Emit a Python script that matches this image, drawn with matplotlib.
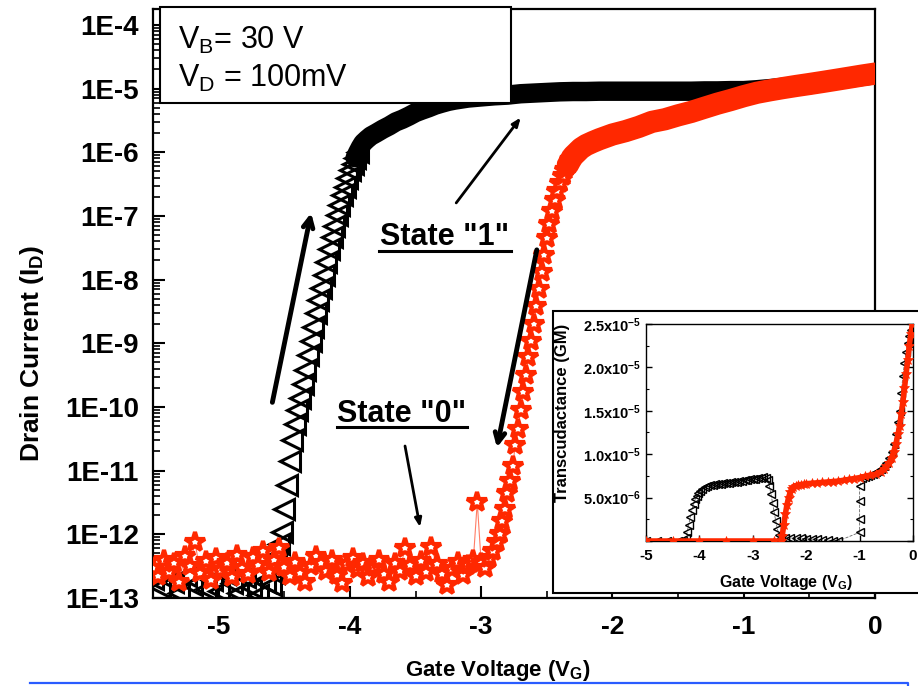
import numpy as np
import matplotlib
matplotlib.use("Agg")
import matplotlib.pyplot as plt
from matplotlib.patches import Rectangle
from matplotlib.lines import Line2D
from matplotlib.ticker import FixedLocator, LogLocator, NullFormatter, MultipleLocator

plt.rcParams['font.family'] = ['Liberation Sans', 'DejaVu Sans']
plt.rcParams['mathtext.fontset'] = 'custom'
plt.rcParams['mathtext.rm'] = 'Liberation Sans'
plt.rcParams['mathtext.bf'] = 'Liberation Sans:bold'
plt.rcParams['mathtext.default'] = 'regular'

RED = '#ff2800'
W, H = 918, 686

# ---- main plot data: drain current vs gate voltage ----
# forward sweep (black triangles)
vg_up = [-5.50, -5.45, -5.40, -5.35, -5.30, -5.25, -5.20, -5.15, -5.10, -5.05,
         -5.00, -4.95, -4.90, -4.85, -4.80, -4.75, -4.70, -4.65, -4.60, -4.58,
         -4.56, -4.54, -4.52, -4.50, -4.48, -4.46, -4.44, -4.42, -4.40, -4.38,
         -4.36, -4.34, -4.32, -4.30, -4.28, -4.26, -4.24, -4.22, -4.20, -4.18,
         -4.16, -4.14, -4.12, -4.10, -4.08, -4.06, -4.04, -4.02, -4.00, -3.98,
         -3.96, -3.94, -3.92, -3.90, -3.87, -3.84, -3.80, -3.75, -3.70, -3.65,
         -3.60, -3.55, -3.50, -3.45, -3.40, -3.35, -3.30, -3.25, -3.20, -3.10,
         -3.00, -2.90, -2.80, -2.70, -2.60, -2.50, -2.40, -2.30, -2.20, -2.10,
         -2.00, -1.90, -1.80, -1.70, -1.60, -1.50, -1.40, -1.30, -1.20, -1.10,
         -1.00, -0.90, -0.80, -0.70, -0.60, -0.50, -0.40, -0.30, -0.20, -0.10,
         0.00]
id_up = [2.0e-13, 1.5e-13, 2.5e-13, 1.8e-13, 1.2e-13, 2.2e-13, 1.6e-13, 2.8e-13, 1.4e-13, 1.9e-13,
         1.3e-13, 2.4e-13, 1.7e-13, 1.2e-13, 2.1e-13, 1.5e-13, 1.1e-13, 1.8e-13, 1.6e-13, 2.5e-13,
         4.5e-13, 7e-13, 1.1e-12, 2.5e-12, 6e-12, 1.4e-11, 3e-11, 5.5e-11, 9e-11, 1.4e-10,
         2.3e-10, 3.8e-10, 6.5e-10, 1.1e-9, 1.8e-9, 3e-9, 4.8e-9, 7.5e-9, 1.2e-8, 1.9e-8,
         3e-8, 4.6e-8, 7e-8, 1.05e-7, 1.5e-7, 2.1e-7, 2.9e-7, 3.9e-7, 5.2e-7, 6.6e-7,
         8.2e-7, 1.0e-6, 1.2e-6, 1.4e-6, 1.6e-6, 1.8e-6, 2.0e-6, 2.3e-6, 2.6e-6, 3.0e-6,
         3.3e-6, 3.7e-6, 4.2e-6, 4.6e-6, 5.0e-6, 5.5e-6, 5.9e-6, 6.3e-6, 6.6e-6, 7.1e-6,
         7.4e-6, 7.7e-6, 7.9e-6, 8.3e-6, 8.5e-6, 8.7e-6, 8.9e-6, 9.0e-6, 9.0e-6, 9.1e-6,
         9.1e-6, 9.1e-6, 9.1e-6, 9.1e-6, 9.1e-6, 9.1e-6, 9.1e-6, 9.2e-6, 9.2e-6, 9.3e-6,
         9.3e-6, 9.6e-6, 1.0e-5, 1.05e-5, 1.1e-5, 1.15e-5, 1.25e-5, 1.35e-5, 1.45e-5, 1.55e-5,
         1.65e-5]

# reverse sweep (red stars)
vg_dn = [-5.50, -5.46, -5.42, -5.38, -5.34, -5.30, -5.26, -5.22, -5.18, -5.14,
         -5.10, -5.06, -5.02, -4.98, -4.94, -4.90, -4.86, -4.82, -4.78, -4.74,
         -4.70, -4.66, -4.62, -4.58, -4.54, -4.50, -4.46, -4.42, -4.38, -4.34,
         -4.30, -4.26, -4.22, -4.18, -4.14, -4.10, -4.06, -4.02, -3.98, -3.94,
         -3.90, -3.86, -3.82, -3.78, -3.74, -3.70, -3.66, -3.62, -3.58, -3.54,
         -3.50, -3.46, -3.42, -3.38, -3.34, -3.30, -3.26, -3.22, -3.18, -3.14,
         -3.10, -3.06, -3.03, -3.00, -2.97, -2.94, -2.91, -2.88, -2.86, -2.84,
         -2.82, -2.80, -2.78, -2.76, -2.74, -2.72, -2.70, -2.68, -2.66, -2.64,
         -2.62, -2.60, -2.58, -2.56, -2.54, -2.52, -2.50, -2.48, -2.46, -2.44,
         -2.42, -2.40, -2.38, -2.36, -2.34, -2.32, -2.30, -2.27, -2.24, -2.20,
         -2.15, -2.10, -2.00, -1.90, -1.80, -1.70, -1.60, -1.50, -1.40, -1.30,
         -1.20, -1.10, -1.00, -0.90, -0.80, -0.70, -0.60, -0.50, -0.40, -0.30,
         -0.20, -0.10, 0.00]
id_dn = [3.0e-13, 2.2e-13, 4.0e-13, 2.6e-13, 3.5e-13, 1.8e-13, 4.5e-13, 3.2e-13, 7.5e-13, 2.5e-13,
         3.8e-13, 1.9e-13, 4.2e-13, 2.8e-13, 3.6e-13, 2.1e-13, 4.8e-13, 3.0e-13, 2.4e-13, 4.4e-13,
         3.3e-13, 5.5e-13, 2.6e-13, 3.9e-13, 6.0e-13, 3.1e-13, 2.2e-13, 3.7e-13, 2.5e-13, 1.8e-13,
         3.2e-13, 4.6e-13, 3.5e-13, 2.7e-13, 3.9e-13, 2.3e-13, 1.7e-13, 3.4e-13, 4.3e-13, 2.9e-13,
         3.6e-13, 2.1e-13, 3.1e-13, 4.0e-13, 2.4e-13, 1.8e-13, 3.5e-13, 2.7e-13, 6.0e-13, 3.3e-13,
         2.2e-13, 3.8e-13, 2.6e-13, 6.3e-13, 3.4e-13, 2.4e-13, 1.6e-13, 2.9e-13, 3.7e-13, 2.3e-13,
         3.3e-13, 3.9e-13, 3.2e-12, 3.6e-13, 3.0e-13, 4.2e-13, 5.5e-13, 7.5e-13, 1.0e-12, 1.6e-12,
         2.5e-12, 4.5e-12, 7e-12, 1.2e-11, 2.5e-11, 4.5e-11, 9e-11, 1.7e-10, 3.2e-10, 6e-10,
         1.1e-9, 2e-9, 3.8e-9, 7e-9, 1.3e-8, 2.4e-8, 4.5e-8, 7.5e-8, 1.2e-7, 1.8e-7,
         2.5e-7, 3.3e-7, 4.2e-7, 5.2e-7, 6.3e-7, 7.5e-7, 8.7e-7, 1.0e-6, 1.15e-6, 1.3e-6,
         1.45e-6, 1.6e-6, 1.9e-6, 2.15e-6, 2.5e-6, 3.0e-6, 3.3e-6, 3.8e-6, 4.3e-6, 5.0e-6,
         5.8e-6, 6.6e-6, 7.6e-6, 8.6e-6, 9.4e-6, 1.02e-5, 1.1e-5, 1.18e-5, 1.27e-5, 1.37e-5,
         1.48e-5, 1.6e-5, 1.72e-5]

x_ticks = [-5, -4, -3, -2, -1, 0]
x_labels = ['-5', '-4', '-3', '-2', '-1', '0']
y_exps = list(range(-13, -3))
y_labels = ['1E%d' % e for e in y_exps]

# ---- inset data: transconductance (uS) ----
vg_gm_up = [-5.0, -4.8, -4.6, -4.4, -4.3, -4.26, -4.23, -4.2, -4.17, -4.14,
            -4.11, -4.08, -4.05, -4.02, -3.99, -3.95, -3.9, -3.85, -3.8, -3.75,
            -3.7, -3.65, -3.6, -3.55, -3.5, -3.45, -3.4, -3.35, -3.3, -3.25,
            -3.2, -3.15, -3.1, -3.05, -3.0, -2.95, -2.9, -2.85, -2.8, -2.76,
            -2.72, -2.69, -2.66, -2.63, -2.6, -2.57, -2.54, -2.51, -2.48, -2.4,
            -2.3, -2.2, -2.1, -2.0, -1.9, -1.8, -1.7, -1.6, -1.5, -1.4,
            -1.0, -1.0, -1.0, -1.0, -0.95, -0.9, -0.85, -0.8, -0.75, -0.7,
            -0.65, -0.6, -0.55, -0.5, -0.45, -0.4, -0.36, -0.32, -0.28, -0.25,
            -0.22, -0.19, -0.16, -0.13, -0.1, -0.07, -0.04]
gm_up = [0, 0, 0, 0, 0, 0.3, 1.0, 1.9, 2.8, 3.6,
         4.3, 4.8, 5.2, 5.5, 5.8, 6.0, 6.2, 6.3, 6.4, 6.5,
         6.55, 6.6, 6.6, 6.65, 6.7, 6.7, 6.75, 6.8, 6.85, 6.9,
         6.95, 7.0, 7.05, 7.1, 7.15, 7.2, 7.25, 7.3, 7.35, 7.3,
         7.0, 6.3, 5.4, 4.4, 3.3, 2.3, 1.4, 0.7, 0.35, 0.35,
         0.35, 0.3, 0.3, 0.25, 0.2, 0.2, 0.15, 0.1, 0.05, 0.0,
         1.0, 2.5, 4.6, 6.3, 7.3, 7.4, 7.5, 7.6, 7.7, 7.9,
         8.1, 8.3, 8.6, 9.0, 9.6, 10.3, 11.2, 12.3, 13.7, 15.0,
         17.0, 19.0, 20.5, 21.8, 22.8, 23.6, 24.3]

vg_gm_dn = [-5.0, -4.5, -4.0, -3.5, -3.0, -2.6, -2.48, -2.45, -2.42, -2.39,
            -2.36, -2.33, -2.3, -2.27, -2.24, -2.2, -2.15, -2.1, -2.05, -2.0,
            -1.9, -1.8, -1.7, -1.6, -1.5, -1.4, -1.3, -1.2, -1.1, -1.0,
            -0.9, -0.8, -0.7, -0.6, -0.55, -0.5, -0.45, -0.4, -0.36, -0.32,
            -0.28, -0.25, -0.22, -0.19, -0.16, -0.13, -0.1, -0.07, -0.04, -0.01]
gm_dn = [0, 0, 0, 0, 0, 0, 0, 0.6, 1.8, 3.1,
         4.2, 5.0, 5.6, 6.0, 6.2, 6.35, 6.45, 6.5, 6.55, 6.6,
         6.65, 6.7, 6.75, 6.8, 6.85, 6.9, 7.0, 7.1, 7.2, 7.3,
         7.45, 7.6, 7.7, 8.0, 8.3, 8.6, 9.0, 9.6, 10.3, 11.2,
         12.3, 13.3, 14.6, 16.0, 17.6, 19.2, 20.8, 22.5, 23.9, 25.0]

gm_ticks = [0, 5e-6, 1e-5, 1.5e-5, 2e-5, 2.5e-5]
gm_labels = ['', r'$\mathbf{5.0x10^{-6}}$', r'$\mathbf{1.0x10^{-5}}$',
             r'$\mathbf{1.5x10^{-5}}$', r'$\mathbf{2.0x10^{-5}}$', r'$\mathbf{2.5x10^{-5}}$']

# annotation arrows (tail, head) in data units: (Vg, log10 Id)
big_arrows = [((-4.595, -9.97), (-4.291, -6.91)),
              ((-2.572, -7.49), (-2.884, -10.68))]
thin_arrows = [((-3.203, -6.83), (-2.686, -5.42)),
               ((-3.584, -10.57), (-3.462, -11.93))]
state_text = ['State "1"', 'State "0"']
state_pos = [(-3.774, -7.46), (-4.101, -10.237)]
state_line = [(-3.781, -2.77, -7.553), (-4.101, -3.105, -10.316)]

vg_up = np.array(vg_up); id_up = np.array(id_up)
vg_dn = np.array(vg_dn); id_dn = np.array(id_dn)

fig = plt.figure(figsize=(W / 100, H / 100), dpi=100)
ax = fig.add_axes([153 / W, 1 - 598 / H, (875 - 153) / W, (598 - 9) / H])

# black forward sweep: open triangles, merging into a solid band once saturated
band = vg_up >= -3.96
ax.plot(vg_up[band], id_up[band], color='k', lw=14, solid_capstyle='round', zorder=2)
pts = vg_up < -3.92
ax.plot(vg_up[pts], id_up[pts], ls='none', marker='<', ms=14, mfc='none', mec='k', mew=2.2, zorder=2)

# red reverse sweep
ax.plot(vg_dn, id_dn, color=RED, lw=0.8, alpha=0.6, zorder=3)
pts = vg_dn < -2.2
ax.plot(vg_dn[pts], id_dn[pts], ls='none', marker='*', ms=15, mfc='white', mec=RED, mew=3, zorder=3)
band = vg_dn >= -2.34
ax.plot(vg_dn[band], id_dn[band], color=RED, lw=16, solid_capstyle='round', zorder=4)

ax.set_xlim(-5.5, 0)
ax.set_yscale('log')
ax.set_ylim(1e-13, 10 ** -3.75)
ax.yaxis.set_major_locator(FixedLocator([10.0 ** e for e in y_exps]))
ax.set_yticklabels(y_labels)
ax.yaxis.set_minor_locator(LogLocator(base=10, subs=np.arange(2, 10), numticks=30))
ax.yaxis.set_minor_formatter(NullFormatter())
ax.set_xticks(x_ticks)
ax.set_xticklabels(x_labels)
ax.xaxis.set_minor_locator(MultipleLocator(0.5))
ax.tick_params(which='both', direction='in', top=False, right=False)
ax.tick_params(which='major', length=8.5, width=1.5)
ax.tick_params(which='minor', length=5, width=1.2)
ax.tick_params(axis='y', which='major', pad=10, labelsize=20)
ax.tick_params(axis='x', which='major', pad=12, labelsize=19)
for lab in ax.get_xticklabels() + ax.get_yticklabels():
    lab.set_fontweight('bold')
for s in ax.spines.values():
    s.set_linewidth(1.6)

for (t, h) in big_arrows:
    ax.annotate('', xy=(h[0], 10 ** h[1]), xytext=(t[0], 10 ** t[1]),
                arrowprops=dict(arrowstyle='->,head_length=0.7,head_width=0.35',
                                lw=3.5, color='k'), zorder=6)
for (t, h) in thin_arrows:
    ax.annotate('', xy=(h[0], 10 ** h[1]), xytext=(t[0], 10 ** t[1]),
                arrowprops=dict(arrowstyle='-|>,head_length=0.5,head_width=0.2',
                                lw=2, color='k'), zorder=6)
for txt, (x, y), (x0, x1, yl) in zip(state_text, state_pos, state_line):
    ax.text(x, 10 ** y, txt, fontsize=22, fontweight='bold', ha='left', va='baseline', zorder=6)
    ax.plot([x0, x1], [10 ** yl, 10 ** yl], color='k', lw=2.2, zorder=6)

fig.text(32 / W, 1 - 353 / H, r'Drain Current (I$_\mathbf{D}$)', rotation=90,
         ha='center', va='center', fontsize=19, fontweight='bold')
fig.text(405 / W, 1 - 676 / H, r'Gate Voltage (V$_\mathbf{G}$)', ha='left', va='baseline',
         fontsize=16, fontweight='bold', zorder=8)

# slide frame line at bottom
fig.add_artist(Line2D([30 / W, 908 / W, 908 / W], [1 - 683 / H, 1 - 683 / H, 0],
                      color='#2a5cff', lw=1.6, zorder=1))

# bias condition box
fig.add_artist(Rectangle((160 / W, 1 - 103 / H), (511 - 160) / W, (103 - 7) / H,
                         transform=fig.transFigure, facecolor='white', edgecolor='k',
                         lw=1.5, zorder=5))
fig.text(178 / W, 1 - 40 / H, r'V$_B$= 30 V', fontsize=22, va='center', zorder=6)
fig.text(178 / W, 1 - 78 / H, r'V$_D$ = 100mV', fontsize=22, va='center', zorder=6)

# inset
fig.add_artist(Rectangle((553 / W, 1 - 593 / H), (925 - 553) / W, (593 - 311) / H,
                         transform=fig.transFigure, facecolor='white', edgecolor='k',
                         lw=1.5, zorder=5))
ins = fig.add_axes([646 / W, 1 - 541 / H, (913 - 646) / W, (541 - 324) / H])
ins.set_zorder(6)
ins.plot(vg_gm_up, np.array(gm_up) * 1e-6, color='0.4', lw=0.6, ls='--', zorder=2)
ins.plot(vg_gm_up, np.array(gm_up) * 1e-6, ls='none', marker='<', ms=6, mfc='none',
         mec='k', mew=1.0, zorder=2)
ins.plot(vg_gm_dn, np.array(gm_dn) * 1e-6, color=RED, lw=4, zorder=3)
ins.plot(vg_gm_dn, np.array(gm_dn) * 1e-6, ls='none', marker='*', ms=7, mfc=RED,
         mec=RED, mew=0.5, zorder=3)
ins.set_xlim(-5, 0)
ins.set_ylim(0, 2.5e-5)
ins.set_xticks(x_ticks)
ins.set_xticklabels(x_labels)
ins.set_yticks(gm_ticks)
ins.set_yticklabels(gm_labels)
ins.yaxis.set_minor_locator(MultipleLocator(2.5e-6))
ins.tick_params(which='both', direction='in', right=True, top=False)
ins.tick_params(which='major', length=4, width=1, labelsize=10.5)
ins.tick_params(which='minor', length=2.5, width=0.8)
ins.tick_params(axis='x', labelsize=11, pad=6)
for lab in ins.get_xticklabels():
    lab.set_fontweight('bold')
for s in ins.spines.values():
    s.set_linewidth(1)
fig.text(562 / W, 1 - 413 / H, 'Transcudactance (GM)', rotation=90, ha='center',
         va='center', fontsize=12, fontweight='bold', zorder=7)
fig.text(786 / W, 1 - 587 / H, r'Gate Voltage (V$_\mathbf{G}$)', ha='center', va='baseline',
         fontsize=11.5, fontweight='bold', zorder=7)

fig.savefig('out.png', dpi=100)
